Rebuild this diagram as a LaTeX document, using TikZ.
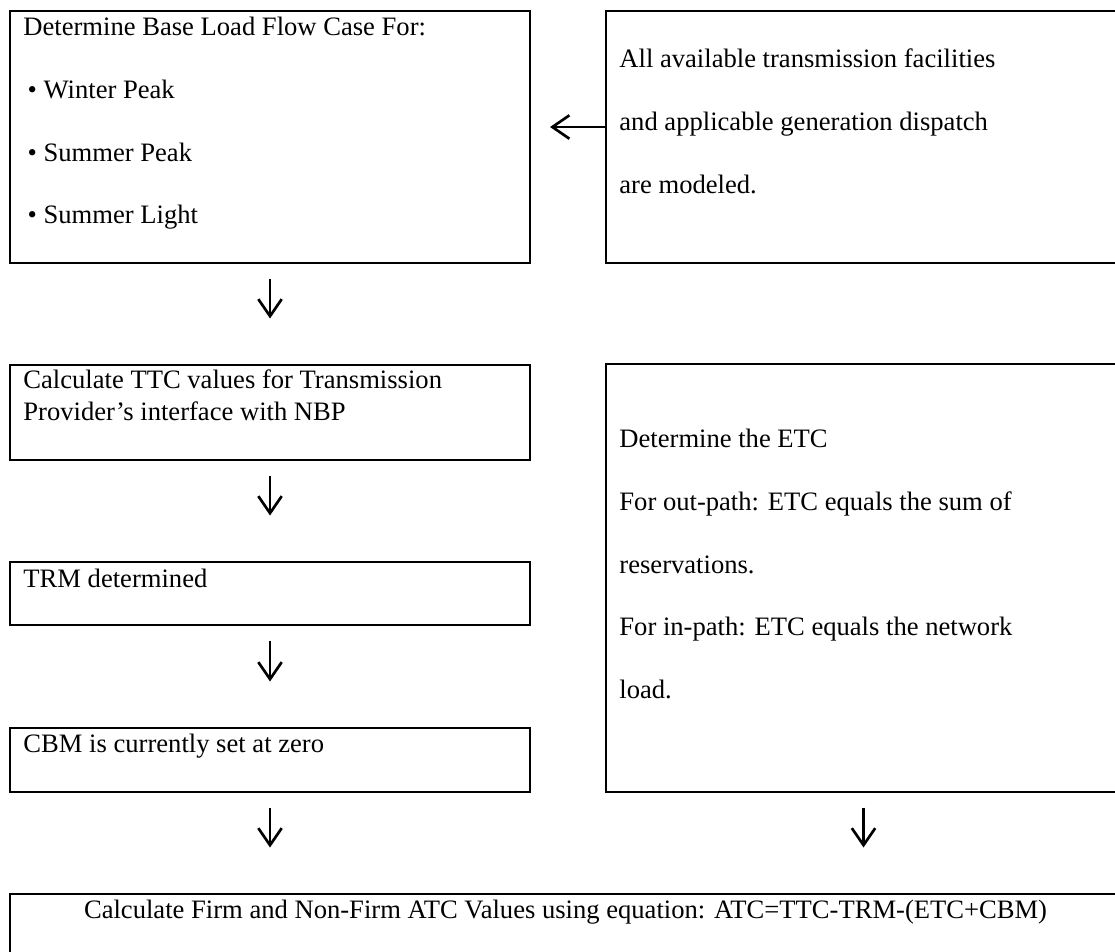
\documentclass[tikz,border=0pt]{standalone}
\usepackage{fontspec}
\setmainfont{Liberation Serif}
\usetikzlibrary{arrows.meta,positioning}
\newlength\pxu
\setlength\pxu{0.47pt}

\begin{document}
\begin{tikzpicture}[
    x=\pxu, y=-\pxu,
    box/.style={draw, rectangle, line width=0.95pt, inner sep=0pt, anchor=north west},
    txt/.style={inner sep=0pt, anchor=north west, align=left, font=\fontsize{12.5}{15}\selectfont},
    dbltxt/.style={txt, font=\fontsize{12.5}{29.5}\selectfont},
    arrow/.style={-{Straight Barb[length=8pt, width=11pt]}, line width=1.25pt},
    downarrow/.style={arrow, shorten <=14.5*\pxu, shorten >=45.5*\pxu}
]
    \clip (0,0) rectangle (1115,951);

    % Left Column: load flow steps
    \node[box, minimum width=520*\pxu, minimum height=252*\pxu] (base) at (9,10) {};
    \node[box, minimum width=520*\pxu, minimum height=95*\pxu] (ttc) at (9,364) {};
    \node[box, minimum width=520*\pxu, minimum height=63*\pxu] (trm) at (9,561) {};
    \node[box, minimum width=520*\pxu, minimum height=64*\pxu] (cbm) at (9,727) {};

    % Right Column: modeling and ETC
    \node[box, minimum width=515*\pxu, minimum height=252*\pxu] (facil) at (605,10) {};
    \node[box, minimum width=515*\pxu, minimum height=428*\pxu] (etc) at (605,363) {};

    % Bottom: ATC equation
    \node[box, minimum width=1111*\pxu, minimum height=90*\pxu] (atc) at (9,893) {};

    % Box texts
    \node[dbltxt] (baseTxt) at ([shift={(14,6.8)}]base.north west)
        {Determine Base Load Flow Case For:\\
         \hspace{2pt}\textbullet\ Winter Peak\\
         \hspace{2pt}\textbullet\ Summer Peak\\
         \hspace{2pt}\textbullet\ Summer Light};
    \node[txt] (ttcTxt) at ([shift={(14,5.8)}]ttc.north west)
        {Calculate TTC values for Transmission\\Provider’s interface with NBP};
    \node[txt] (trmTxt) at ([shift={(14,7.8)}]trm.north west) {TRM determined};
    \node[txt] (cbmTxt) at ([shift={(14,6.8)}]cbm.north west) {CBM is currently set at zero};
    \node[dbltxt] (facilTxt) at ([shift={(14,38.8)}]facil.north west)
        {All available transmission facilities\\
         and applicable generation dispatch\\
         are modeled.};
    \node[dbltxt] (etcTxt) at ([shift={(14,65.8)}]etc.north west)
        {Determine the ETC\\
         For out-path: ETC equals the sum of\\
         reservations.\\
         For in-path: ETC equals the network\\
         load.};
    \node[txt, anchor=north] (atcTxt) at ([shift={(0,6.8)}]atc.north)
        {Calculate Firm and Non-Firm ATC Values using equation: ATC=TTC-TRM-(ETC+CBM)};

    % Arrow Connections
    \draw[arrow, shorten >=19*\pxu] ([shift={(0,-10)}]facil.west) -- ([shift={(0,-10)}]base.east);
    \draw[downarrow] (base.south) -- (ttc.north);
    \draw[downarrow] (ttc.south) -- (trm.north);
    \draw[downarrow] (trm.south) -- (cbm.north);
    \draw[downarrow] (cbm.south) -- (cbm.south |- atc.north);
    \draw[downarrow] (etc.south) -- (etc.south |- atc.north);

\end{tikzpicture}
\end{document}
